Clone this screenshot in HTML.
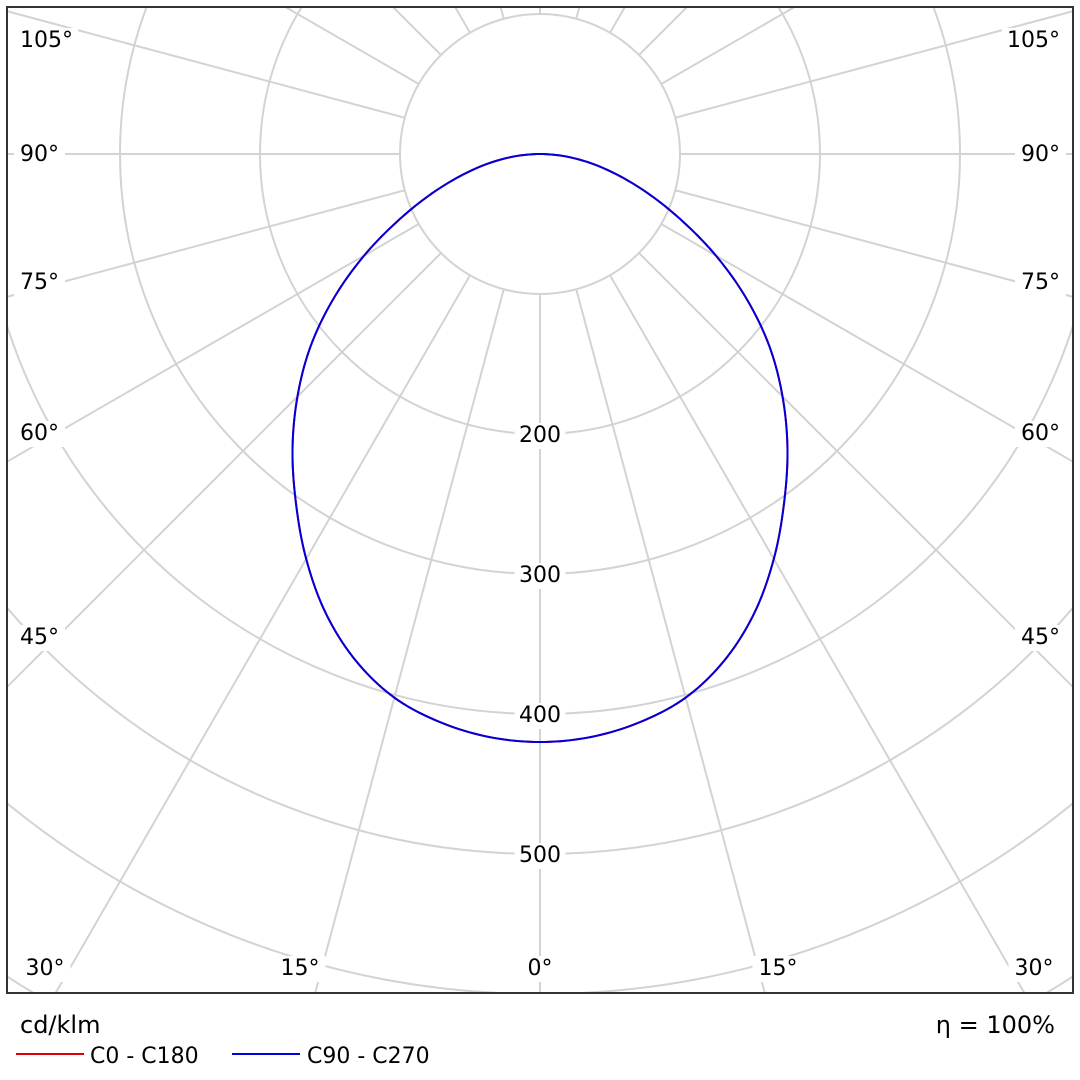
<!DOCTYPE html>
<html><head><meta charset="utf-8"><style>
html,body{margin:0;padding:0;background:#fff;width:1080px;height:1080px;overflow:hidden}
svg{display:block}
text{font-family:"DejaVu Sans","Liberation Sans",sans-serif}
</style></head><body>
<svg id="chart" width="1080" height="1080" xmlns="http://www.w3.org/2000/svg">
<defs><clipPath id="plotclip"><rect x="8" y="8" width="1064" height="984"/></clipPath></defs>
<g id="grid" clip-path="url(#plotclip)"></g>
<g id="curves" clip-path="url(#plotclip)"></g>
<g id="labels"></g>
<rect x="7" y="7" width="1066" height="986" fill="none" stroke="#333" stroke-width="2"/>
<text x="20" y="1033" font-size="24" fill="#000">cd/klm</text>
<text x="1055" y="1033" font-size="24" fill="#000" text-anchor="end">η = 100%</text>
<line x1="16" y1="1054" x2="84" y2="1054" stroke="#e00000" stroke-width="2"/>
<text x="90" y="1063" font-size="22">C0 - C180</text>
<line x1="232" y1="1054" x2="300" y2="1054" stroke="#0000dd" stroke-width="2"/>
<text x="307" y="1063" font-size="22">C90 - C270</text>
</svg>
<script>
const gammaAngles=[0,5,10,15,20,25,30,35,40,45,50,55,60,65,70,75,80,85,90];
const c0Values=[420,418,412,402,385,362,334,304,275,245,214,180,145,111,82,57,36,17,0];
const c90Values=[420,418,412,402,385,362,334,304,275,245,214,180,145,111,82,57,36,17,0];
const ringValues=[100,200,300,400,500,600,700,800];
const ringLabels=["200","300","400","500"];
const cx=540,cy=154,pxPer=1.4;
const NS="http://www.w3.org/2000/svg";
function rScale(v){return v*pxPer;}
function pt(angDeg,v){const a=angDeg*Math.PI/180;return [cx+rScale(v)*Math.sin(a),cy+rScale(v)*Math.cos(a)];}
const grid=document.getElementById('grid');
ringValues.forEach(v=>{const c=document.createElementNS(NS,'circle');


c.setAttribute('cx',cx);c.setAttribute('cy',cy);c.setAttribute('r',rScale(v));
c.setAttribute('fill','none');c.setAttribute('stroke','#d3d3d3');c.setAttribute('stroke-width','2');grid.appendChild(c);});
for(let a=0;a<360;a+=15){const p1=pt(a,100),p2=pt(a,1200);const l=document.createElementNS(NS,'line');


l.setAttribute('x1',p1[0]);l.setAttribute('y1',p1[1]);l.setAttribute('x2',p2[0]);l.setAttribute('y2',p2[1]);
l.setAttribute('stroke','#d3d3d3');l.setAttribute('stroke-width','2');grid.appendChild(l);}
const labels=document.getElementById('labels');
function addLabel(x,y,t,anchor){const w=t.length*13+8;const r=document.createElementNS(NS,'rect');


let rx=anchor==='middle'?x-w/2:(anchor==='end'?x-w:x);
r.setAttribute('x',rx-2);r.setAttribute('y',y-19);r.setAttribute('width',w+4);r.setAttribute('height',26);r.setAttribute('fill','#fff');labels.appendChild(r);
const tx=document.createElementNS(NS,'text');


tx.setAttribute('x',anchor==='middle'?x:(anchor==='end'?x-4:x+4));tx.setAttribute('y',y);tx.setAttribute('font-size','22');tx.setAttribute('text-anchor',anchor);tx.textContent=t;labels.appendChild(tx);}
ringLabels.forEach((t,i)=>{addLabel(cx,cy+rScale(ringValues[i+1])+8,t,'middle');});
const sideAngles=["105°","90°","75°","60°","45°"];const sideY=[40,154,282,433,637];
sideAngles.forEach((t,i)=>{addLabel(16,sideY[i]+7,t,'start');addLabel(1064,sideY[i]+7,t,'end');});
const botAngles=["30°","15°","0°","15°","30°"];const botX=[45,300,540,778,1034];
botAngles.forEach((t,i)=>addLabel(botX[i],975,t,'middle'));
const curves=document.getElementById('curves');
function valAt(vals,g){
  const n=gammaAngles.length;const step=gammaAngles[1]-gammaAngles[0];
  let i=Math.min(n-2,Math.floor(g/step));const t=(g-gammaAngles[i])/step;
  const get=k=>k<0?vals[-k]:(k>=n?vals[n-1]:vals[k]);
  const p0=get(i-1),p1=get(i),p2=get(i+1),p3=get(i+2);
  return 0.5*((2*p1)+(-p0+p2)*t+(2*p0-5*p1+4*p2-p3)*t*t+(-p0+3*p1-3*p2+p3)*t*t*t);
}
function drawCurve(vals,color,name){let pts=[];
const maxG=gammaAngles[gammaAngles.length-1];
for(let g=-maxG;g<=maxG+1e-9;g+=0.5){pts.push(pt(g,Math.max(0,valAt(vals,Math.abs(g)))));}
const d='M'+pts.map(p=>p[0].toFixed(2)+','+p[1].toFixed(2)).join(' L');
const p=document.createElementNS(NS,'path');


p.setAttribute('d',d);p.setAttribute('fill','none');p.setAttribute('stroke',color);p.setAttribute('stroke-width','2');p.setAttribute('stroke-linejoin','round');curves.appendChild(p);}
drawCurve(c0Values,'#e00000','curve-c0-c180');
drawCurve(c90Values,'#0000dd','curve-c90-c270');
</script>
</body></html>
